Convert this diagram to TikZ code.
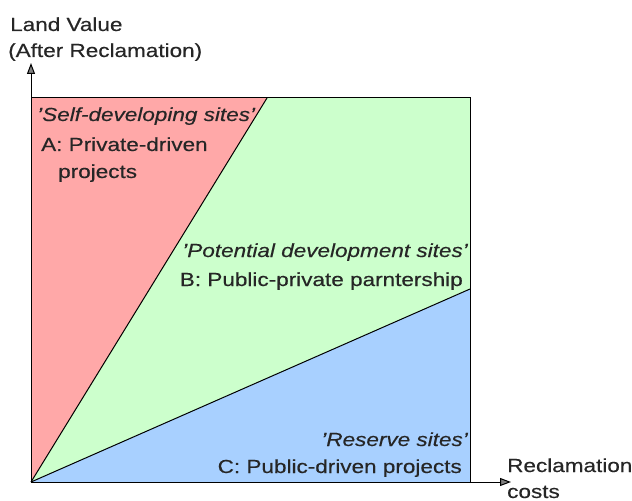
\documentclass[tikz,border=0pt]{standalone}
\usepackage{fontspec}
\setmainfont{Liberation Sans}[FakeStretch=1.19,FakeBold=0.4]
\usetikzlibrary{arrows.meta}
\definecolor{redreg}{RGB}{255,168,168}
\definecolor{greenreg}{RGB}{204,255,204}
\definecolor{bluereg}{RGB}{168,208,255}
\tikzset{
  lbl/.style={font=\fontsize{19}{22}\selectfont, inner sep=0pt, text=black!85},
  ilbl/.style={lbl, font=\fontsize{19}{22}\selectfont\itshape},
  axis/.style={line width=1pt, -{Triangle[length=11pt,width=8pt,fill=gray]}},
  edge/.style={line width=1pt}
}
\begin{document}
\begin{tikzpicture}[x=1bp,y=-1bp]
\useasboundingbox (0,0) rectangle (632,501);
\coordinate (O) at (31,482);
\coordinate (TL) at (31,98);
\coordinate (TR) at (470,98);
\coordinate (BR) at (470,482);
\coordinate (RT) at (267,98);
\coordinate (BT) at (470,289);
\coordinate (Ytip) at (31,63);
\coordinate (Xtip) at (511,482);
\fill[greenreg] (O) -- (TL) -- (TR) -- (BR) -- cycle;
\fill[redreg] (O) -- (TL) -- (RT) -- cycle;
\fill[bluereg] (O) -- (BT) -- (BR) -- cycle;
\draw[edge] (O) -- (RT);
\draw[edge] (O) -- (BT);
\draw[edge] (TL) -- (TR) -- (BR);
\draw[axis] (O) -- (Ytip);
\draw[axis] (O) -- (Xtip);
\node[lbl, anchor=base west] (yl1) at (10,31) {Land Value};
\node[lbl, anchor=base west] (yl2) at (8,57) {(After Reclamation)};
\node[lbl, anchor=base west] (xl1) at (507,472) {Reclamation};
\node[lbl, anchor=base west] (xl2) at (507,498) {costs};
\node[ilbl, anchor=base west] (a0) at (37,121) {'Self-developing sites'};
\node[lbl, anchor=base west] (a1) at (41,151) {A: Private-driven};
\node[lbl, anchor=base west] (a2) at (58,178) {projects};
\node[ilbl, anchor=base east] (b0) at (468,257) {'Potential development sites'};
\node[lbl, anchor=base east] (b1) at (463,286) {B: Public-private parntership};
\node[ilbl, anchor=base east] (c0) at (468,446) {'Reserve sites'};
\node[lbl, anchor=base east] (c1) at (462,473) {C: Public-driven projects};
\end{tikzpicture}
\end{document}
